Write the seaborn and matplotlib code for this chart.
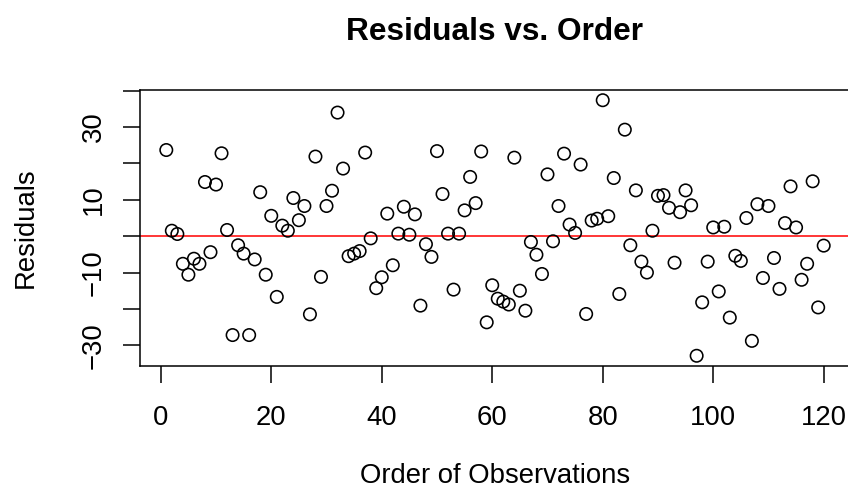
import matplotlib
matplotlib.use("Agg")
import matplotlib.pyplot as plt
import seaborn as sns
import pandas as pd

# ---- data ----
order = list(range(1, 121))
residuals = [
    23.7, 1.5, 0.6, -7.6, -10.6, -6.2, -7.6, 14.9, -4.4, 14.2,
    22.8, 1.7, -27.2, -2.5, -4.8, -27.2, -6.4, 12.1, -10.6, 5.6,
    -16.7, 2.9, 1.5, 10.5, 4.4, 8.3, -21.5, 21.9, -11.2, 8.3,
    12.5, 34.0, 18.6, -5.5, -4.8, -4.1, 23.0, -0.6, -14.3, -11.3,
    6.2, -8.0, 0.7, 8.1, 0.4, 6.0, -19.1, -2.2, -5.7, 23.4,
    11.6, 0.7, -14.7, 0.7, 7.1, 16.3, 9.1, 23.3, -23.7, -13.5,
    -17.2, -18.0, -18.8, 21.6, -15.0, -20.5, -1.6, -5.1, -10.4, 17.0,
    -1.4, 8.3, 22.7, 3.2, 0.9, 19.7, -21.4, 4.3, 4.8, 37.4,
    5.5, 16.0, -15.9, 29.3, -2.5, 12.6, -7.0, -10.0, 1.5, 11.1,
    11.3, 7.8, -7.3, 6.6, 12.6, 8.5, -32.9, -18.2, -7.0, 2.4,
    -15.2, 2.6, -22.4, -5.4, -6.8, 5.0, -28.8, 8.8, -11.5, 8.3,
    -6.0, -14.5, 3.6, 13.7, 2.4, -12.0, -7.6, 15.1, -19.6, -2.6,
]
x_ticks = [0, 20, 40, 60, 80, 100, 120]
y_ticks = [-30, -20, -10, 0, 10, 20, 30, 40]
y_tick_labels = ["\u221230", "", "\u221210", "", "10", "", "30", ""]
title = "Residuals vs. Order"
x_label = "Order of Observations"
y_label = "Residuals"

df = pd.DataFrame({"order": order, "residual": residuals})

sns.set_style("white")
plt.rcParams["font.family"] = ["Liberation Sans", "DejaVu Sans"]
plt.rcParams["axes.unicode_minus"] = True
plt.rcParams["text.color"] = "black"
plt.rcParams["axes.labelcolor"] = "black"

fig = plt.figure(figsize=(8.48, 4.95), dpi=100)
ax = fig.add_axes([140 / 848, 129 / 495, 710 / 848, 276 / 495])

sns.scatterplot(data=df, x="order", y="residual", ax=ax, marker="o", s=80,
                facecolor="none", edgecolor="black", linewidth=1.15, zorder=3)
ax.axhline(0, color="red", linewidth=1.1, zorder=2)

lo, hi = min(residuals), max(residuals)
r = hi - lo
ax.set_ylim(lo - 0.04 * r, hi + 0.04 * r)
xr = max(order) - min(order)
ax.set_xlim(min(order) - 0.04 * xr, max(order) + 0.04 * xr)

ax.set_xticks(x_ticks)
ax.set_xticklabels([str(t) for t in x_ticks])
ax.set_yticks(y_ticks)
ax.set_yticklabels(y_tick_labels)

fs = 19.8
ax.tick_params(axis="x", direction="out", length=12, width=1.1, pad=16,
               labelsize=fs, colors="black", bottom=True)
ax.tick_params(axis="y", direction="out", length=12, width=1.1, pad=12,
               labelsize=fs, colors="black", left=True)
plt.setp(ax.get_yticklabels(), rotation=90, va="center")

for side in ["left", "bottom", "top", "right"]:
    ax.spines[side].set_visible(True)
    ax.spines[side].set_color("black")
    ax.spines[side].set_linewidth(1.1)

ax.set_xlabel(x_label, fontsize=fs, color="black")
ax.set_ylabel(y_label, fontsize=fs, color="black")
ax.xaxis.set_label_coords(0.5, -(463 - 366) / 276)
ax.xaxis.label.set_va("top")
ax.yaxis.set_label_coords(-(140 - 39) / 710, 0.5)

ax.set_title(title, fontsize=22.8, fontweight="bold", pad=36, color="black")

fig.savefig("out.png", dpi=100)
